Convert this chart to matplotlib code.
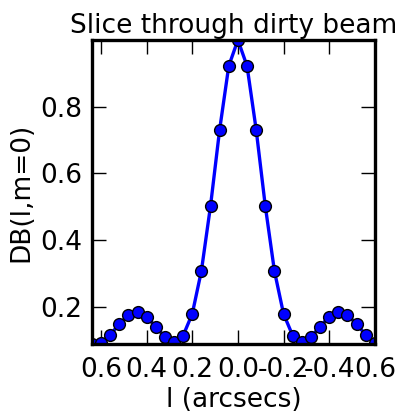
import numpy as np
import matplotlib
matplotlib.use('Agg')
import matplotlib.pyplot as plt

plt.rcParams['axes.unicode_minus'] = False

# l offsets (arcsecs), plotted with l increasing to the left
l_vals = [0.64, 0.60, 0.56, 0.52, 0.48, 0.44, 0.40, 0.36, 0.32, 0.28, 0.24,
          0.20, 0.16, 0.12, 0.08, 0.04, 0.00, -0.04, -0.08, -0.12, -0.16,
          -0.20, -0.24, -0.28, -0.32, -0.36, -0.40, -0.44, -0.48, -0.52,
          -0.56, -0.60]
# dirty beam slice along m=0
db_vals = [0.0875, 0.092, 0.115, 0.1475, 0.175, 0.184, 0.170, 0.139, 0.109,
           0.095, 0.113, 0.178, 0.307, 0.502, 0.731, 0.922, 1.000, 0.922,
           0.731, 0.502, 0.307, 0.178, 0.113, 0.095, 0.109, 0.139, 0.170,
           0.184, 0.175, 0.1475, 0.115, 0.092]

l = np.array(l_vals)
db = np.array(db_vals)

fig = plt.figure(figsize=(4.03, 4.12), dpi=100)
ax = fig.add_axes([0.228, 0.165, 0.702, 0.738])

ax.plot(l, db, '-', color='blue', lw=2.4, marker='o', ms=8.5,
        mfc='blue', mec='black', mew=1.0)

ax.set_xlim(l.max(), l.min())
ax.set_ylim(db.min(), db.max())
ax.set_xticks([0.6, 0.4, 0.2, 0.0, -0.2, -0.4, -0.6])
ax.set_xticklabels(['0.6', '0.4', '0.2', '0.0', '-0.2', '-0.4', '0.6'])
ax.set_yticks([0.2, 0.4, 0.6, 0.8])

for s in ax.spines.values():
    s.set_linewidth(2.4)
    s.set_zorder(3)
ax.tick_params(direction='in', length=10, width=1, top=True, right=True,
               labelsize=19, pad=7)
ax.tick_params(axis='x', pad=9)

ax.set_title('Slice through dirty beam', fontsize=19, pad=5)
ax.set_xlabel('l (arcsecs)', fontsize=19, labelpad=3)
ax.set_ylabel('DB(l,m=0)', fontsize=19, labelpad=4)

fig.savefig('out.png', dpi=100)
